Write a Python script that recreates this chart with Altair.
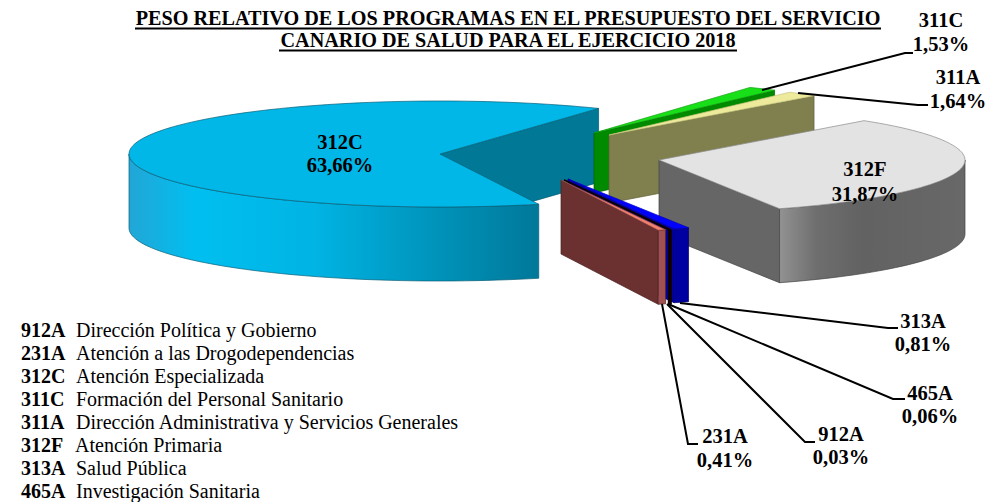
import math
import altair as alt
import pandas as pd

# ---- values ----
codes = ["912A", "231A", "312C", "311C", "311A", "312F", "313A", "465A"]
shares = [0.03, 0.41, 63.66, 1.53, 1.64, 31.87, 0.81, 0.06]
names = ["Dirección Política y Gobierno", "Atención a las Drogodependencias", "Atención Especializada",
         "Formación del Personal Sanitario", "Dirección Administrativa y Servicios Generales",
         "Atención Primaria", "Salud Pública", "Investigación Sanitaria"]
share_text = ["0,03%", "0,41%", "63,66%", "1,53%", "1,64%", "31,87%", "0,81%", "0,06%"]
title_lines = ["PESO RELATIVO DE LOS PROGRAMAS EN EL PRESUPUESTO DEL SERVICIO",
               "CANARIO DE SALUD PARA EL EJERCICIO 2018"]

# ---- layout ----
FIRST = 69.9  # angle where the first slice starts
RY = 53
DEPTH = 74
apex = {"912A": (564, 180), "231A": (561, 180), "312C": (440, 154), "311C": (594, 133),
        "311A": (609, 135), "312F": (659, 160), "313A": (568, 179), "465A": (565, 180)}
RX = {"912A": 306, "231A": 306, "312C": 311, "311C": 306, "311A": 306, "312F": 306, "313A": 306, "465A": 306}

angles = {}
t = FIRST
for c, s in zip(codes, shares):
    angles[c] = (t, t + s * 3.6)
    t += s * 3.6


def rim(code, a, drop=0):
    cx, cy = apex[code]
    r = math.radians(a)
    return (cx + RX[code] * math.cos(r), cy + RY * math.sin(r) + drop)


def arc(code, a0, a1, drop=0):
    n = max(2, int(abs(a1 - a0) / 2) + 1)
    return [rim(code, a0 + (a1 - a0) * i / n, drop) for i in range(n + 1)]


def top(code):
    a0, a1 = angles[code]
    return [apex[code]] + arc(code, a0, a1)


def radial(code, a, depth=DEPTH):
    cx, cy = apex[code]
    e = rim(code, a)
    return [(cx, cy), e, (e[0], e[1] + depth), (cx, cy + depth)]


def outer(code, a0, a1, depth=DEPTH):
    return arc(code, a0, a1) + arc(code, a1, a0, depth)


X = alt.Scale(domain=[8, 996], nice=False, zero=False)
Y = alt.Scale(domain=[494, 8], nice=False, zero=False)


def poly(points, fill=None, stroke=None, width=0.7, closed=True):
    pts = list(points) + ([points[0]] if closed else [])
    df = pd.DataFrame({"x": [p[0] for p in pts], "y": [p[1] for p in pts], "i": range(len(pts))})
    kw = {}
    if fill is not None:
        kw["fill"] = fill
    kw["stroke"] = stroke if stroke else "transparent"
    kw["strokeWidth"] = width
    return alt.Chart(df).mark_line(**kw).encode(
        x=alt.X("x:Q", scale=X, axis=None),
        y=alt.Y("y:Q", scale=Y, axis=None),
        order="i:Q",
    )


def hgrad(stops):
    return alt.Gradient(gradient="linear", x1=0, x2=1, y1=0, y2=0,
                        stops=[alt.GradientStop(offset=o, color=c) for o, c in stops])


def label(rows, size, bold=True, align="center"):
    df = pd.DataFrame(rows, columns=["t", "x", "y"])
    return alt.Chart(df).mark_text(font="Liberation Serif", fontSize=size, color="#000000", align=align,
                                   baseline="middle", fontWeight="bold" if bold else "normal").encode(
        x=alt.X("x:Q", scale=X, axis=None), y=alt.Y("y:Q", scale=Y, axis=None), text="t:N")


layers = []
s = dict(zip(codes, share_text))

# 312C
a0, a1 = angles["312C"]
layers.append(poly(radial("312C", a1), "#007896", "#005a70"))
layers.append(poly(outer("312C", a0, 180),
                   hgrad([(0, "#22A6D6"), (0.16, "#00BFF0"), (0.45, "#00B4E4"), (0.75, "#0093BA"), (1, "#00789A")]),
                   "#0a6078"))
layers.append(poly(top("312C"), "#00B7E8", "#0a6078"))

# 311C
a0, a1 = angles["311C"]
layers.append(poly(radial("311C", a1, 60), "#008A00", "#006000"))
layers.append(poly(top("311C"), "#18E018", "#10a010"))

# 311A
a0, a1 = angles["311A"]
layers.append(poly(radial("311A", a1, 68), "#807F4E", "#60603a"))
layers.append(poly(top("311A"), "#EEEA9C", "#c8c480"))

# 312F
a0, a1 = angles["312F"]
layers.append(poly(radial("312F", a1), "#666666", "#444444"))
layers.append(poly(outer("312F", 360, a1),
                   hgrad([(0, "#929292"), (0.2, "#6e6e6e"), (0.45, "#626262"), (1, "#686868")]),
                   "#444444"))
layers.append(poly(top("312F"), "#E3E3E3", "#8a8a8a"))

# 313A
a0, a1 = angles["313A"]
layers.append(poly(radial("313A", a1), "#0000A8", "#000070"))
layers.append(poly(outer("313A", a0, a1), "#0000A0", "#000070"))
layers.append(poly(top("313A"), "#0000FF", "#0000C0"))

# 465A and 912A
for c in ["465A", "912A"]:
    a0, a1 = angles[c]
    layers.append(poly(outer(c, a0, a1), "#200000", "#100000", 1.6))
    layers.append(poly(top(c), "#200000", "#100000", 1.2))

# 231A
a0, a1 = angles["231A"]
layers.append(poly(radial("231A", a1), "#6B3030", "#4a2020"))
layers.append(poly(outer("231A", a0, a1), "#A05050", "#4a2020"))
layers.append(poly(top("231A"), "#F08070", "#904838"))

# leader lines
leaders = {
    "311C": [(762, 90), (905, 53), (913, 53)],
    "311A": [(798, 93), (918, 105), (928, 105)],
    "313A": [(680, 303), (888, 328), (898, 328)],
    "465A": [(668, 304), (893, 399), (905, 399)],
    "912A": [(667, 304), (805, 442), (815, 442)],
    "231A": [(662, 304), (688, 444), (698, 444)],
}
for pts in leaders.values():
    layers.append(poly(pts, None, "#000000", 2, closed=False))

# title
layers.append(label([(title_lines[0], 508, 19), (title_lines[1], 508, 41)], 20.2))
layers.append(poly([(135, 28.5), (881, 28.5)], None, "#000000", 2, closed=False))
layers.append(poly([(279, 50.5), (737, 50.5)], None, "#000000", 2, closed=False))

# slice labels
anchors = {"312C": (340, 143), "312F": (865, 170), "311C": (941, 21), "311A": (958, 78),
           "313A": (923, 322), "465A": (930, 394), "912A": (841, 435), "231A": (725, 437)}
gap = {"312C": 23, "312F": 25, "311C": 24, "311A": 24, "313A": 23, "465A": 23, "912A": 23, "231A": 24}
rows = []
for c in codes:
    x, y = anchors[c]
    rows += [(c, x, y), (s[c], x, y + gap[c])]
layers.append(label(rows, 20.5))

# legend list
ys = [331, 354, 377, 400, 423, 446, 469, 492]
layers.append(label([(c, 21, y) for c, y in zip(codes, ys)], 20, True, "left"))
layers.append(label([(n, 75 if c == "312F" else 76, y) for c, n, y in zip(codes, names, ys)], 20, False, "left"))

chart = alt.layer(*layers).properties(width=988, height=486, padding=0, background="#FFFFFF").configure_view(stroke=None)
chart.save("out.html", embed_options={"renderer": "svg", "actions": False})
